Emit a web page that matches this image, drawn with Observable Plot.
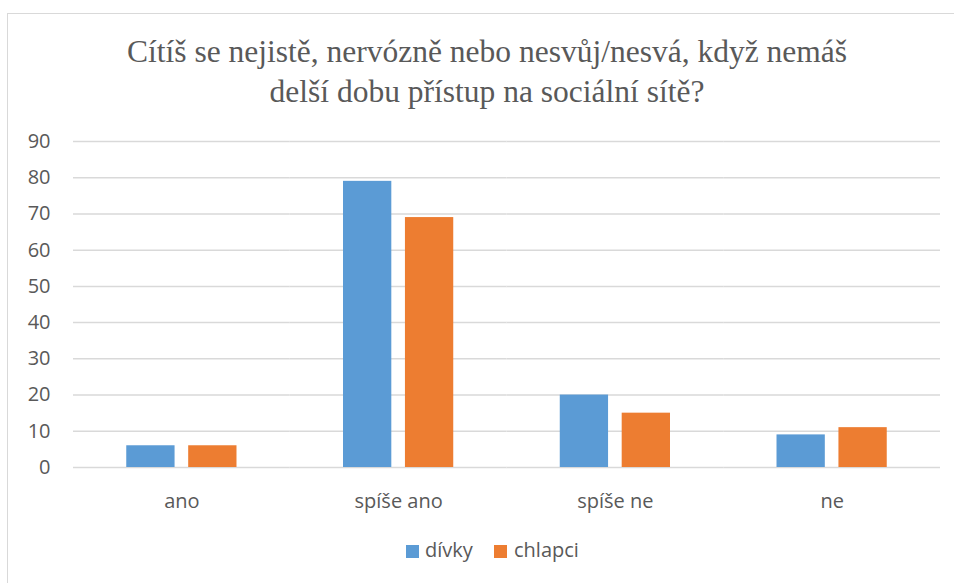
<!DOCTYPE html>
<html><head><meta charset="utf-8">
<script src="https://cdn.jsdelivr.net/npm/d3@7"></script>
<script src="https://cdn.jsdelivr.net/npm/@observablehq/plot@0.6"></script>
<style>
body{margin:0;background:#fff;width:954px;height:583px;overflow:hidden;position:relative;font-family:"Open Sans",sans-serif;}
#frame{position:absolute;left:7px;top:13px;width:960px;height:600px;border:1.5px solid #d9d9d9;box-sizing:border-box}
#title{position:absolute;top:32px;left:0;width:974px;text-align:center;font-family:"Liberation Serif",serif;font-size:31.5px;line-height:40px;color:#595959}
#chart{position:absolute;left:0;top:120px}
.sw{position:absolute;top:545px;width:13px;height:13px}
.lt{position:absolute;top:536px;font-size:20px;line-height:27px;color:#595959;white-space:nowrap}
</style></head>
<body>
<div id="frame"></div>
<div id="title">Cítíš se nejistě, nervózně nebo nesvůj/nesvá, když nemáš<br>delší dobu přístup na sociální sítě?</div>
<div id="chart"></div>
<div id="legend"></div>
<script>
const categories = ["ano", "spíše ano", "spíše ne", "ne"];
const series = ["dívky", "chlapci"];
const divky = [6, 79, 20, 9];
const chlapci = [6, 69, 15, 11];
const colors = ["#5b9bd5", "#ed7d31"];
const yTicks = [0, 10, 20, 30, 40, 50, 60, 70, 80, 90];

const values = [divky, chlapci];
const data = [];
categories.forEach((c, i) => series.forEach((s, j) => data.push({category: c, series: s, value: values[j][i]})));

const chart = Plot.plot({
  width: 954, height: 400,
  marginTop: 21, marginBottom: 53, marginLeft: 73, marginRight: 14,
  style: {fontFamily: "Open Sans", fontSize: "20px", color: "#595959", background: "transparent", overflow: "visible"},
  fx: {domain: categories, padding: 0, round: false, label: null, axis: "bottom", tickSize: 0, tickPadding: 26},
  x: {domain: series, paddingInner: 0.22, paddingOuter: 0.86, round: false, axis: null},
  y: {domain: [0, 90], ticks: yTicks, label: null, tickSize: 0, tickPadding: 23},
  color: {domain: series, range: colors},
  marks: [
    Plot.ruleY(yTicks, {stroke: "#d9d9d9", strokeWidth: 1.5}),
    Plot.barY(data, {fx: "category", x: "series", y: "value", fill: "series"})
  ]
});
document.getElementById("chart").appendChild(chart);

const legend = document.getElementById("legend");
const swX = [406, 494], txX = [425, 514];
series.forEach((s, i) => {
  const sw = document.createElement("div");
  sw.className = "sw"; sw.style.left = swX[i] + "px"; sw.style.background = colors[i];
  const t = document.createElement("div");
  t.className = "lt"; t.style.left = txX[i] + "px"; t.textContent = s;
  legend.appendChild(sw); legend.appendChild(t);
});
</script>
</body></html>
